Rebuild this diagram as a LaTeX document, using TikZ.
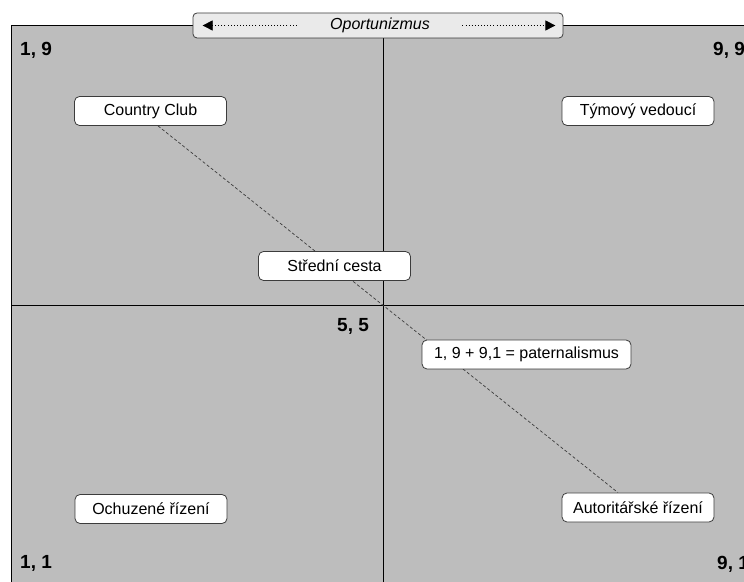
\documentclass[tikz,border=0pt]{standalone}
\usepackage{fontspec}
\setmainfont{Liberation Sans}
\usetikzlibrary{arrows.meta,calc,backgrounds}
\definecolor{fieldgray}{RGB}{189,189,189}
\definecolor{bargray}{RGB}{234,234,234}
\definecolor{edgegray}{RGB}{60,60,60}
\tikzset{
  x=1pt,y=1pt,
  labelbox/.style={draw=edgegray,line width=0.8pt,fill=white,rounded corners=5pt,
    minimum width=152pt,minimum height=29pt,inner sep=4pt,font=\fontsize{16}{18}\selectfont},
  corner/.style={font=\fontsize{19}{21}\selectfont\bfseries,inner sep=0pt,anchor=west},
  axisline/.style={line width=0.8pt,black},
  diag/.style={draw=edgegray,line width=0.7pt,dash pattern=on 3pt off 2.2pt},
  dotarrow/.style={line width=0.7pt,dash pattern=on 0.9pt off 2.2pt,-{Triangle[length=10pt,width=10pt]},black}
}
\begin{document}
\begin{tikzpicture}
\useasboundingbox (0,0) rectangle (744,581);
\clip (0,0) rectangle (744,581);
% nodes
\node[labelbox] (cc) at (150.5,470) {Country Club};
\node[labelbox] (tv) at (638,470) {Týmový vedoucí};
\node[labelbox] (sc) at (334.5,315) {Střední cesta};
\node[labelbox,minimum width=209pt] (pa) at (526.5,226.5) {1, 9 + 9,1 = paternalismus};
\node[labelbox] (oc) at (151,72) {Ochuzené řízení};
\node[labelbox] (au) at (638,73.5) {Autoritářské řízení};
\node[draw=edgegray,line width=0.8pt,fill=bargray,rounded corners=4pt,minimum width=370pt,minimum height=25pt,inner sep=0pt,font=\fontsize{16}{18}\selectfont\itshape] (op) at (378,555.5) {\hspace{4pt}Oportunizmus};
\draw[dotarrow] ($(op.west)+(104,0)$) -- ($(op.west)+(10,0)$);
\draw[dotarrow] ($(op.east)+(-101,0)$) -- ($(op.east)+(-8,0)$);
% corner labels
\node[corner] (l19) at (20,531) {1, 9};
\node[corner] (l99) at (713,531) {9, 9};
\node[corner] (l11) at (20,17.5) {1, 1};
\node[corner] (l91) at (717,17) {9, 1};
\node[corner] (l55) at (337,255) {5, 5};
\begin{scope}[on background layer]
  \coordinate (tl) at (11,556);
  \coordinate (br) at (760,-10);
  \fill[fieldgray] (tl) rectangle (br);
  \draw[axisline] (tl |- br) -- (tl) -- (br |- tl);
  \coordinate (vt) at (383,556);
  \coordinate (vb) at (383,-10);
  \coordinate (hl) at (11,276);
  \coordinate (hr) at (760,276);
  \draw[axisline] (vt) -- (vb);
  \draw[axisline] (hl) -- (hr);
  \draw[diag] ($(cc.south)+(7.5,0)$) -- ($(au.north)+(-20,0)$);
\end{scope}
\end{tikzpicture}
\end{document}
